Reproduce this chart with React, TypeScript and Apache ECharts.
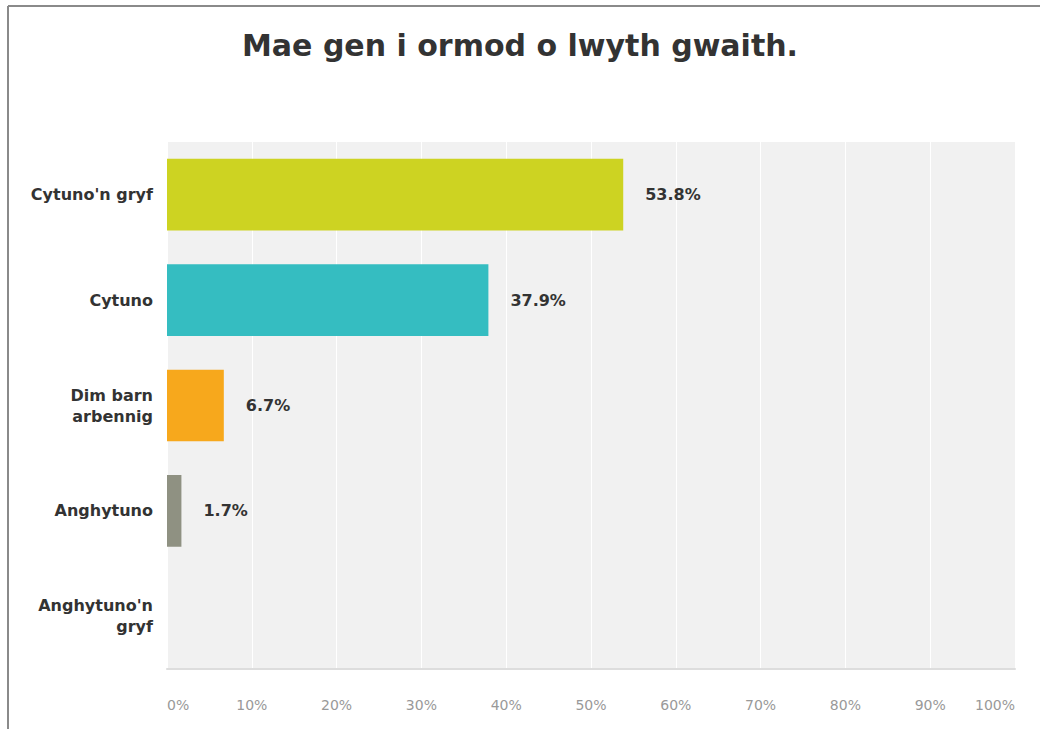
import React, { useEffect, useRef } from "react";
import * as echarts from "echarts";

const titleText = "Mae gen i ormod o lwyth gwaith.";
const categories = ["Cytuno'n gryf", "Cytuno", "Dim barn\narbennig", "Anghytuno", "Anghytuno'n\ngryf"];
const values = [53.8, 37.9, 6.7, 1.7, 0];
const colors = ["#cdd322", "#35bdc1", "#f7a81c", "#8f9182", "#8f9182"];
const tickValues = [0, 10, 20, 30, 40, 50, 60, 70, 80, 90, 100];

const FONT = "DejaVu Sans, Liberation Sans, Arial, sans-serif";

export default function App() {
  const ref = useRef<HTMLDivElement>(null);
  useEffect(() => {
    if (!ref.current) return;
    const chart = echarts.init(ref.current, null, { renderer: "svg" });
    chart.setOption({
      animation: false,
      backgroundColor: "#ffffff",
      title: {
        text: titleText,
        left: "center",
        top: 25,
        textStyle: { fontFamily: FONT, fontSize: 30, fontWeight: "bold", color: "#333333" },
      },
      graphic: [
        { type: "line", shape: { x1: 8, y1: 6, x2: 1040, y2: 6 }, style: { stroke: "#8a8a8a", lineWidth: 2 } },
        { type: "line", shape: { x1: 8, y1: 6, x2: 8, y2: 729 }, style: { stroke: "#8a8a8a", lineWidth: 2 } },
      ],
      grid: {
        left: 167,
        right: 25,
        top: 142,
        bottom: 60,
        show: true,
        backgroundColor: "#f1f1f1",
        borderWidth: 0,
      },
      xAxis: {
        type: "value",
        min: tickValues[0],
        max: tickValues[tickValues.length - 1],
        interval: 10,
        axisLine: { show: true, lineStyle: { color: "#dddddd", width: 2 } },
        axisTick: { show: false },
        splitLine: { show: true, lineStyle: { color: "#ffffff", width: 1 } },
        axisLabel: {
          formatter: "{value}%",
          color: "#999999",
          fontSize: 14,
          fontFamily: FONT,
          margin: 29,
          alignMinLabel: "left",
          alignMaxLabel: "right",
        },
      },
      yAxis: {
        type: "category",
        data: categories,
        inverse: true,
        axisLine: { show: false },
        axisTick: { show: false },
        axisLabel: {
          color: "#333333",
          fontSize: 16,
          fontWeight: "bold",
          fontFamily: FONT,
          margin: 14,
          lineHeight: 21,
        },
      },
      series: [
        {
          type: "bar",
          data: values.map((v, i) => ({ value: v, itemStyle: { color: colors[i] } })),
          barCategoryGap: "32%",
          label: {
            show: true,
            position: "right",
            distance: 22,
            formatter: (p: any) => (p.value > 0 ? p.value.toFixed(1) + "%" : ""),
            color: "#333333",
            fontSize: 16,
            fontWeight: "bold",
            fontFamily: FONT,
          },
        },
      ],
    });
    return () => chart.dispose();
  }, []);
  return <div ref={ref} style={{ position: "fixed", left: 0, top: 0, width: 1040, height: 729 }} />;
}
